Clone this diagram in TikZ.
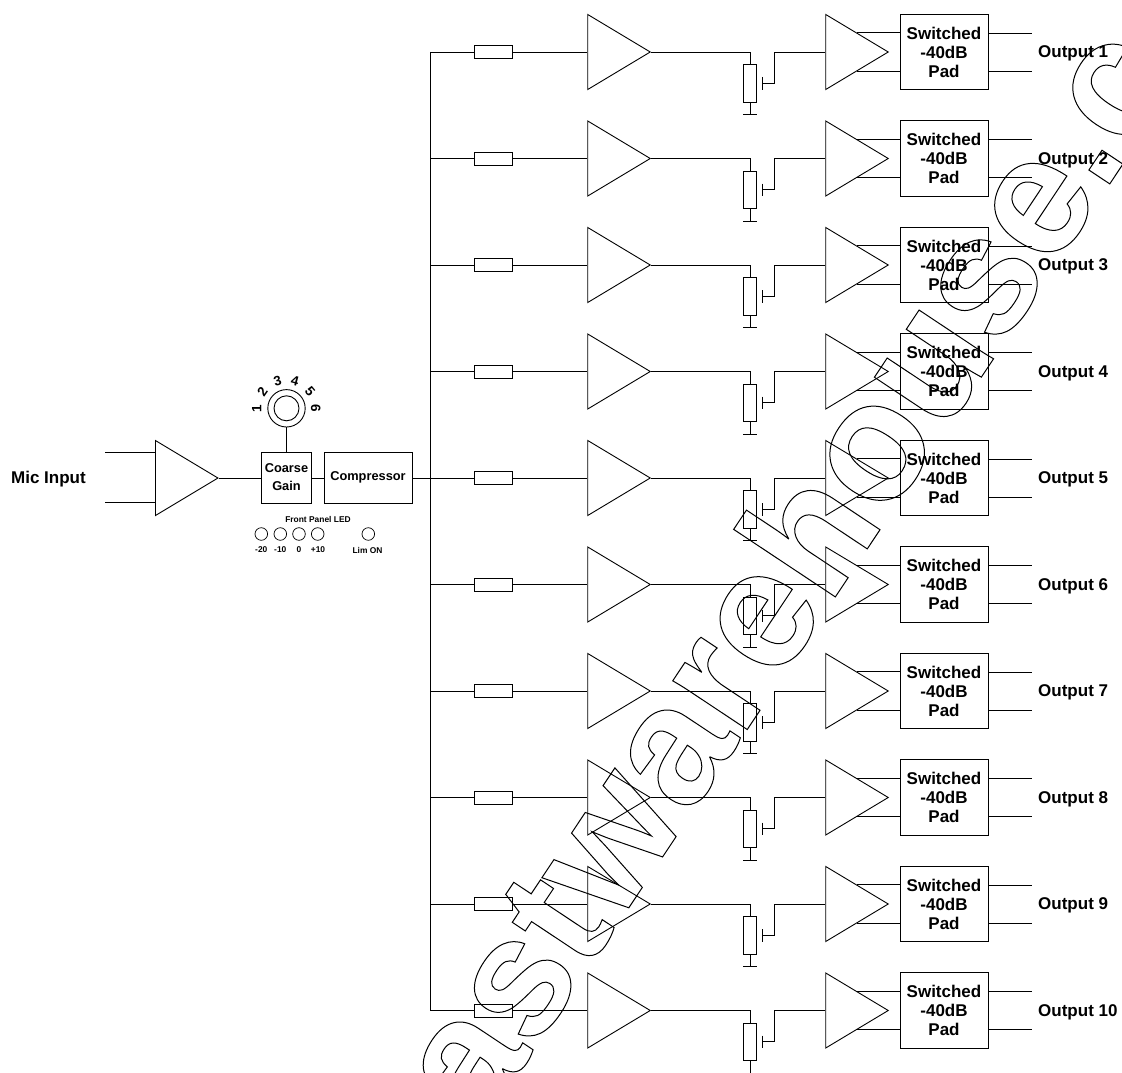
\documentclass[tikz,border=0pt]{standalone}
\usepackage{fontspec}
\setsansfont{Liberation Sans}
\usetikzlibrary{shapes.geometric}
\tikzset{
    wire/.style={draw,line width=0.9pt},
    amp/.style={draw,line width=0.9pt,isosceles triangle,isosceles triangle stretches,inner sep=0pt,minimum width=75pt,minimum height=62.5pt,anchor=lower side},
    res/.style={draw,line width=0.9pt,inner sep=0pt,minimum width=38pt,minimum height=13pt},
    pot/.style={draw,line width=0.9pt,inner sep=0pt,minimum width=13pt,minimum height=37.5pt},
    padbox/.style={draw,line width=0.9pt,inner sep=0pt,minimum width=88pt,minimum height=75.5pt,align=center,font=\bfseries\sffamily\fontsize{17}{19}\selectfont},
    ctlbox/.style={draw,line width=0.9pt,inner sep=0pt,minimum height=51pt,align=center,font=\bfseries\sffamily\fontsize{12.8}{18}\selectfont},
    led/.style={draw,line width=0.7pt,circle,inner sep=0pt,minimum size=12.6pt},
    lbl/.style={inner sep=0pt,font=\bfseries\sffamily\fontsize{17}{19}\selectfont},
    knobnum/.style={inner sep=0pt,font=\bfseries\sffamily\fontsize{13.5}{14}\selectfont},
    tiny/.style={inner sep=0pt,font=\bfseries\sffamily\fontsize{8.4}{10}\selectfont}
}
\newfontfamily\wmfont{Liberation Sans}[BoldFont={Liberation Sans Bold}]
\begin{document}
\begin{tikzpicture}[x=1pt,y=-1pt]
    \useasboundingbox (0,0) rectangle (1122,1073);
    % input stage
    \node[amp] (ampin) at (155,478) {};
    \coordinate (inup) at (105,452.5);
    \coordinate (indown) at (105,502.7);
    \draw[wire] (inup) -- (inup -| ampin.lower side);
    \draw[wire] (indown) -- (indown -| ampin.lower side);
    \node[lbl,anchor=base east] (micinput) at (86,483.7) {Mic Input};
    \node[ctlbox,minimum width=50.5pt] (coarse) at (286.5,478) {\raisebox{1.2pt}{Coarse}\\\raisebox{1.2pt}{Gain}};
    \node[ctlbox,minimum width=88pt] (comp) at (368,478) {\raisebox{3.2pt}{Compressor}};
    \draw[wire] (ampin.apex) -- (coarse);
    \draw[wire] (coarse) -- (comp);
    % knob
    \node[draw,line width=0.9pt,circle,inner sep=0pt,minimum size=37.4pt] (knobout) at (286.5,408.3) {};
    \node[draw,line width=0.9pt,circle,inner sep=0pt,minimum size=25pt] (knobin) at (286.5,408.3) {};
    \draw[wire] (knobout) -- (coarse);
    \node[knobnum,rotate=90] (n1) at (256.7,408.3) {1};
    \node[knobnum,rotate=55] (n2) at (262.5,392) {2};
    \node[knobnum,rotate=15] (n3) at (277.5,381) {3};
    \node[knobnum,rotate=-15] (n4) at (295,381) {4};
    \node[knobnum,rotate=-50] (n5) at (310,391.5) {5};
    \node[knobnum,rotate=-90] (n6) at (315.7,408.3) {6};
    % front panel leds
    \node[tiny] (fp) at (318,519) {Front Panel LED};
    \node[led] (led1) at (261.3,534) {};
    \node[led] (led2) at (280.3,534) {};
    \node[led] (led3) at (299,534) {};
    \node[led] (led4) at (317.7,534) {};
    \node[led] (led5) at (368.3,534) {};
    \node[tiny] (t1) at (261.3,550) {-20};
    \node[tiny] (t2) at (280.3,550) {-10};
    \node[tiny] (t3) at (299,550) {0};
    \node[tiny] (t4) at (318,550) {+10};
    \node[tiny] (t5) at (367.5,550) {Lim ON};
    % output channels
    \coordinate (bustop) at (430,52);
    \coordinate (busbot) at (430,1010.5);
    \draw[wire] (bustop) -- (busbot);
    \draw[wire] (comp) -- (comp -| bustop);
    \foreach \i in {1,...,10} {
        \pgfmathsetmacro{\ry}{52+(\i-1)*106.5}
        \coordinate (bus\i) at (430,\ry);
        \node[res] (res\i) at (493,\ry) {};
        \node[amp] (ampa\i) at (587.3,\ry) {};
        \coordinate (top\i) at (750,\ry);
        \node[pot] (pot\i) at (750,\ry+31.5) {};
        \coordinate (gnd\i) at (750,\ry+62.8);
        \coordinate (gndl\i) at (743.3,\ry+62.8);
        \coordinate (gndr\i) at (756.7,\ry+62.8);
        \coordinate (wipa\i) at (762.7,\ry+25);
        \coordinate (wipb\i) at (762.7,\ry+37.8);
        \coordinate (wipc\i) at (762.7,\ry+31.4);
        \coordinate (wipd\i) at (774.7,\ry+31.4);
        \coordinate (wipe\i) at (774.7,\ry);
        \node[amp] (ampb\i) at (825.3,\ry) {};
        \node[padbox] (pad\i) at (944,\ry) {Switched\\-40dB\\Pad};
        \coordinate (outa\i) at (1032,\ry-19);
        \coordinate (outb\i) at (1032,\ry+19);
        \node[lbl,anchor=base west] (lab\i) at (1038,\ry+5.7) {Output \i};
        \draw[wire] (bus\i) -- (res\i);
        \draw[wire] (res\i) -- (ampa\i.lower side);
        \draw[wire] (ampa\i.apex) -- (top\i) -- (pot\i);
        \draw[wire] (pot\i) -- (gnd\i);
        \draw[wire] (gndl\i) -- (gndr\i);
        \draw[wire] (wipa\i) -- (wipb\i);
        \draw[wire] (wipc\i) -- (wipd\i) -- (wipe\i) -- (ampb\i.lower side);
        \draw[wire] (ampb\i.left side) -- (ampb\i.left side -| pad\i.west);
        \draw[wire] (ampb\i.right side) -- (ampb\i.right side -| pad\i.west);
        \draw[wire] (outa\i -| pad\i.east) -- (outa\i);
        \draw[wire] (outb\i -| pad\i.east) -- (outb\i);
    }
    % outlined text across the page
    \node[rotate=56.4,anchor=base west,inner sep=0pt,font=\bfseries\wmfont\fontsize{168.5}{169}\selectfont] (mark) at (481.5,1129.5) {\special{pdf:code 1 Tr 1 w}astwarehouse.c};
\end{tikzpicture}
\end{document}
